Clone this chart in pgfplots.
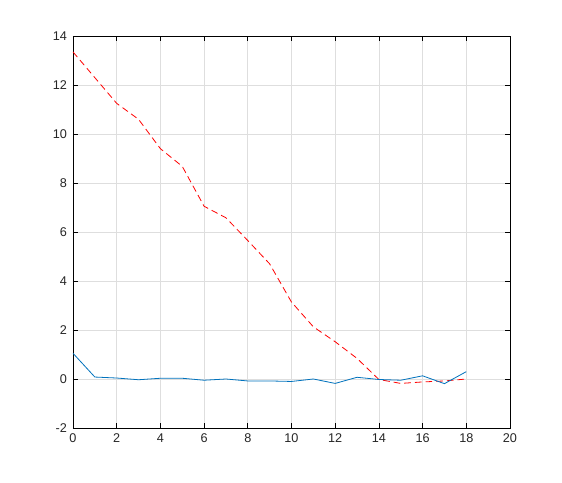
\documentclass[border=0pt]{standalone}
\usepackage{pgfplots}
\pgfplotsset{compat=1.18}
\usepackage{fontspec}
\setmainfont{Liberation Sans}
\definecolor{mblue}{rgb}{0,0.447,0.741}
\definecolor{mgrid}{RGB}{222,222,222}
\begin{document}
\begin{tikzpicture}[x=0.75pt,y=0.75pt]
\path[use as bounding box] (-73,-55) rectangle (489,428);
\fill[white] (-73,-55) rectangle (489,428);
\begin{axis}[
  at={(0,0)}, anchor=south west,
  scale only axis, width=437*0.75pt, height=392*0.75pt,
  xmin=0, xmax=20, ymin=-2, ymax=14,
  xtick={0,2,...,20}, ytick={-2,0,...,14},
  grid=major, major grid style={mgrid, line width=0.5pt},
  tick align=inside, major tick length=4pt,
  tick style={black, line width=0.5pt},
  axis line style={black, line width=0.6pt},
  /pgf/number format/assume math mode=true,
  ticklabel style={font=\fontsize{9.5}{11}\selectfont, text=black!85},
  xticklabel style={yshift=-1pt},
  yticklabel style={xshift=-1pt},
]
\addplot[red, line width=0.6pt, dash pattern=on 5pt off 3pt] coordinates {
(0,13.35) (1,12.3) (2,11.25) (3,10.6) (4,9.4) (5,8.68) (6,7.05) (7,6.58)
(8,5.65) (9,4.7) (10,3.14) (11,2.13) (12,1.52) (13,0.84) (14,-0.02)
(15,-0.18) (16,-0.12) (17,-0.08) (18,0.0)};
\addplot[mblue, line width=0.6pt] coordinates {
(0,1.05) (1,0.08) (2,0.04) (3,-0.03) (4,0.03) (5,0.03) (6,-0.05) (7,0.0)
(8,-0.08) (9,-0.08) (10,-0.1) (11,0.0) (12,-0.18) (13,0.07) (14,-0.02)
(15,-0.05) (16,0.13) (17,-0.19) (18,0.3)};
\end{axis}
\end{tikzpicture}
\end{document}
